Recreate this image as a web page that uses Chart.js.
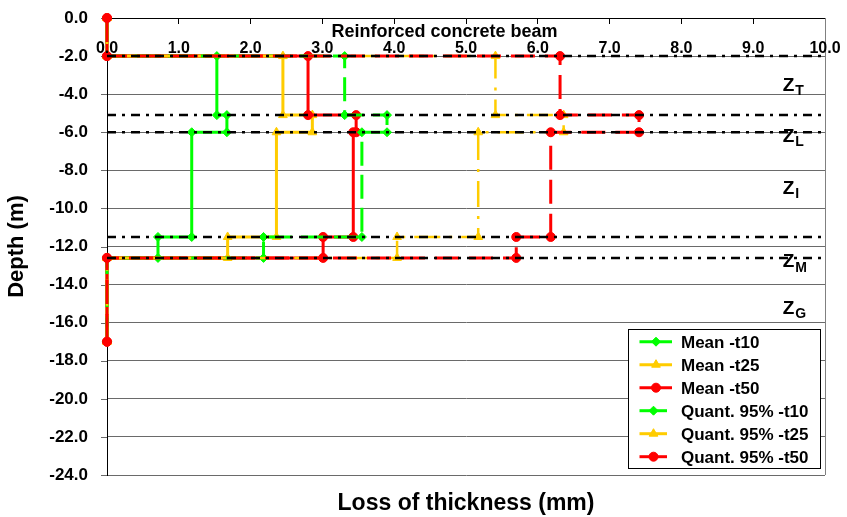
<!DOCTYPE html>
<html><head><meta charset="utf-8">
<script src="https://cdn.jsdelivr.net/npm/chart.js@4/dist/chart.umd.min.js"></script>
<style>html,body{margin:0;padding:0;background:#fff}canvas{display:block}</style>
</head><body>
<canvas id="c" width="847" height="517"></canvas>
<script>
const FONT = "'Liberation Sans', Arial, Helvetica, sans-serif";

// ---- data ----
const boundaryDepths = [-2, -5.1, -6, -11.5, -12.6];
const topDepth = 0;
const bottomDepth = -17;
const seriesNames = ['Mean -t10', 'Mean -t25', 'Mean -t50', 'Quant. 95% -t10', 'Quant. 95% -t25', 'Quant. 95% -t50'];
const meanT10 = [1.53, 1.67, 1.18, 0.71];
const meanT25 = [2.45, 2.86, 2.36, 1.68];
const meanT50 = [2.80, 3.47, 3.43, 3.01];
const q95T10  = [3.31, 3.90, 3.55, 2.18];
const q95T25  = [5.41, 6.36, 5.17, 4.04];
const q95T50  = [6.31, 7.41, 6.18, 5.70];
const xTickLabels = ['0.0', '1.0', '2.0', '3.0', '4.0', '5.0', '6.0', '7.0', '8.0', '9.0', '10.0'];
const zoneNames = ['T', 'L', 'I', 'M', 'G'];
const chartTitle = 'Reinforced concrete beam';
const xTitle = 'Loss of thickness (mm)';
const yTitle = 'Depth (m)';

// ---- layout/style constants ----
const zoneLabelDepth = [-3.83, -6.51, -9.23, -13.09, -15.54];
const zoneLabelX = 9.41;
const GREEN = '#00ff00', YELLOW = '#ffcc00', RED = '#ff0000';
const GRID = '#6a6a6a';

function profile(vals) {
  const pts = [{x: 0, y: topDepth}, {x: 0, y: boundaryDepths[0]}];
  for (let i = 0; i < vals.length; i++) {
    pts.push({x: vals[i], y: boundaryDepths[i]});
    pts.push({x: vals[i], y: boundaryDepths[i + 1]});
  }
  pts.push({x: 0, y: boundaryDepths[boundaryDepths.length - 1]});
  pts.push({x: 0, y: bottomDepth});
  return pts;
}

const styles = [
  {c: GREEN,  ps: 'rectRot',  r: 4.5, dash: [],            w: 3},
  {c: YELLOW, ps: 'triangle', r: 5,   dash: [],            w: 3},
  {c: RED,    ps: 'circle',   r: 4.5, dash: [],            w: 3},
  {c: GREEN,  ps: 'rectRot',  r: 4.5, dash: [24, 9],       w: 3},
  {c: YELLOW, ps: 'triangle', r: 5,   dash: [26, 9, 3, 9], w: 2.5},
  {c: RED,    ps: 'circle',   r: 4.5, dash: [24, 10],      w: 3}
];
const seriesVals = [meanT10, meanT25, meanT50, q95T10, q95T25, q95T50];

const datasets = seriesVals.map((v, i) => ({
  label: seriesNames[i],
  data: profile(v),
  showLine: true,
  clip: false,
  borderColor: styles[i].c,
  backgroundColor: styles[i].c,
  pointBackgroundColor: styles[i].c,
  pointBorderColor: styles[i].c,
  pointStyle: styles[i].ps,
  pointRadius: styles[i].r,
  pointBorderWidth: 1,
  borderWidth: styles[i].w,
  borderDash: styles[i].dash,
  tension: 0,
  order: 10 - i
}));

boundaryDepths.forEach(d => datasets.push({
  label: '_ref',
  data: [{x: 0, y: d}, {x: 10, y: d}],
  showLine: true,
  borderColor: '#000',
  borderWidth: 2.5,
  borderDash: [9, 6, 3, 6],
  pointRadius: 0,
  order: 0
}));

const deco = {
  id: 'deco',
  beforeDraw(chart) {
    const ctx = chart.ctx;
    ctx.save(); ctx.fillStyle = '#fff'; ctx.fillRect(0, 0, chart.width, chart.height); ctx.restore();
  },
  beforeDatasetsDraw(chart) {
    const {ctx, chartArea: a, scales: {y}} = chart;
    ctx.save();
    ctx.strokeStyle = GRID; ctx.lineWidth = 1;
    y.ticks.forEach(t => {
      const py = Math.round(y.getPixelForValue(t.value)) + 0.5;
      ctx.beginPath(); ctx.moveTo(a.left - 6, py); ctx.lineTo(a.left, py); ctx.stroke();
    });
    ctx.restore();
  },
  afterDatasetsDraw(chart) {
    const {ctx, chartArea: a, scales: {x, y}} = chart;
    ctx.save();
    // right border
    ctx.strokeStyle = '#808080'; ctx.lineWidth = 1;
    ctx.beginPath();
    ctx.moveTo(Math.round(a.right) + 0.5, a.top); ctx.lineTo(Math.round(a.right) + 0.5, a.bottom);
    ctx.stroke();
    // top tick labels (inside)
    ctx.fillStyle = '#000';
    ctx.textAlign = 'center'; ctx.textBaseline = 'alphabetic';
    ctx.font = `bold 16px ${FONT}`;
    xTickLabels.forEach((t, i) => ctx.fillText(t, x.getPixelForValue(i), a.top + 34.7));
    // title
    ctx.font = `bold 18px ${FONT}`;
    ctx.fillText(chartTitle, 444.5, a.top + 19.3);
    // zone labels
    ctx.textAlign = 'left';
    zoneNames.forEach((z, i) => {
      const px = x.getPixelForValue(zoneLabelX);
      const py = y.getPixelForValue(zoneLabelDepth[i]);
      ctx.font = `bold 19px ${FONT}`;
      ctx.fillText('Z', px, py);
      const w = ctx.measureText('Z').width;
      ctx.font = `bold 14px ${FONT}`;
      ctx.fillText(z, px + w + 1, py + 4.5);
    });
    ctx.restore();
  },
  afterDraw(chart) {
    const {ctx, chartArea: a} = chart;
    ctx.save();
    // x title
    ctx.fillStyle = '#000'; ctx.textAlign = 'center'; ctx.textBaseline = 'alphabetic';
    ctx.font = `bold 23px ${FONT}`;
    ctx.fillText(xTitle, (a.left + a.right) / 2, 510);
    // legend
    const bx = 628.5, by = 329.5, bw = 192, bh = 139;
    ctx.fillStyle = '#fff'; ctx.fillRect(bx, by, bw, bh);
    ctx.strokeStyle = '#000'; ctx.lineWidth = 1; ctx.strokeRect(bx, by, bw, bh);
    const dp = Chart.helpers && Chart.helpers.drawPoint;
    seriesNames.forEach((name, i) => {
      const cy = 341.7 + i * 23;
      const s = styles[i];
      const x1 = 639.5, x2 = i < 3 ? 672 : 667, mx = i < 3 ? 656 : 653.5;
      ctx.strokeStyle = s.c; ctx.fillStyle = s.c; ctx.lineWidth = 3; ctx.setLineDash([]);
      ctx.beginPath(); ctx.moveTo(x1, cy); ctx.lineTo(x2, cy); ctx.stroke();
      ctx.lineWidth = 1;
      if (dp) {
        dp(ctx, {pointStyle: s.ps, radius: s.r, rotation: 0, borderWidth: 1}, mx, cy);
      } else {
        ctx.beginPath(); ctx.arc(mx, cy, s.r, 0, Math.PI * 2); ctx.fill();
      }
      ctx.fillStyle = '#000'; ctx.textAlign = 'left';
      ctx.font = `bold 17px ${FONT}`;
      ctx.fillText(name, 681, cy + 6);
    });
    ctx.restore();
  }
};

new Chart(document.getElementById('c'), {
  type: 'scatter',
  data: {datasets},
  plugins: [deco],
  options: {
    responsive: false,
    animation: false,
    layout: {padding: {left: 0, right: 22, top: 0, bottom: 42}},
    plugins: {legend: {display: false}, tooltip: {enabled: false}, title: {display: false}},
    scales: {
      x: {
        type: 'linear', position: 'top', min: 0, max: 10,
        ticks: {display: false, stepSize: 1},
        grid: {drawOnChartArea: false, drawTicks: true, tickLength: -6, color: '#000', lineWidth: 1},
        border: {color: '#000', width: 1},
        afterFit(s) { s.height = 18; }
      },
      y: {
        type: 'linear', min: -24, max: 0,
        ticks: {
          stepSize: 2, padding: 0, color: '#000',
          font: {family: FONT, size: 17, weight: 'bold'},
          callback: v => Number(v).toFixed(1)
        },
        grid: {color: GRID, lineWidth: 1, tickLength: 19, tickColor: 'rgba(0,0,0,0)'},
        border: {color: '#000', width: 1},
        title: {display: true, text: yTitle, color: '#000', font: {family: FONT, size: 22, weight: 'bold'}, padding: {top: 4, bottom: 0}},
        afterFit(s) { s.width = 107; }
      }
    }
  }
});
</script>
</body></html>
